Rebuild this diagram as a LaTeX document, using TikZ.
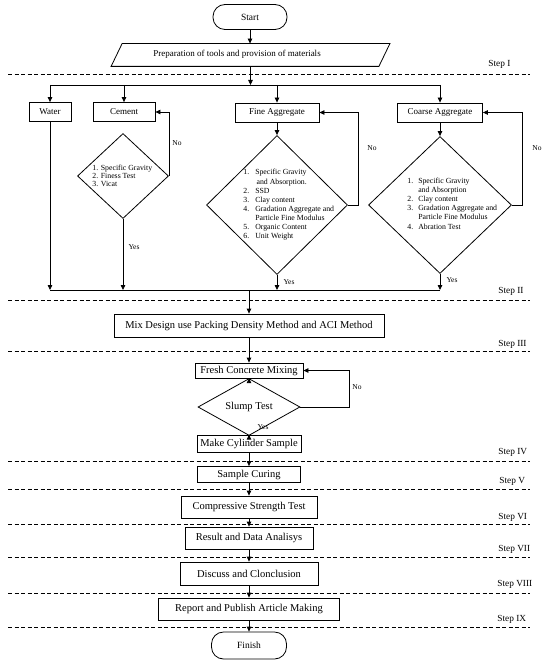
\documentclass[tikz,border=0pt]{standalone}
\usepackage{fontspec}
\setmainfont{Liberation Serif}
\usetikzlibrary{arrows.meta,shapes.geometric,calc}
\begin{document}
\begin{tikzpicture}[x=1pt,y=-1pt,
  line width=0.8pt,
  arr/.style={-{Triangle[length=5pt,width=4.5pt]}},
  box/.style={draw, rectangle, inner sep=0pt, align=center},
  topbox/.style={box, font=\fontsize{9}{10}\selectfont, minimum height=19pt},
  lowbox/.style={box, font=\fontsize{10.5}{12}\selectfont},
  term/.style={draw, rectangle, rounded corners=12pt, inner sep=0pt, font=\fontsize{9.5}{11}\selectfont},
  dec/.style={draw, diamond, inner sep=0pt},
  dtext/.style={inner sep=0pt, anchor=west, align=left, font=\fontsize{7.8}{9.1}\selectfont},
  yn/.style={inner sep=0pt, font=\fontsize{7.5}{9}\selectfont},
  steplbl/.style={inner sep=0pt, anchor=west, font=\fontsize{9.3}{11}\selectfont},
  sep/.style={dash pattern=on 4pt off 2.5pt, line width=0.7pt}
]
\useasboundingbox (0,0) rectangle (550,666);

% separators
\foreach \yy in {74,300,351,461,489,524,557,593,627}
  \draw[sep] (8,\yy) -- (530,\yy);

% step labels
\node[steplbl] (s1) at (488,64) {Step I};
\node[steplbl] (s2) at (498,291) {Step II};
\node[steplbl] (s3) at (498,344) {Step III};
\node[steplbl] (s4) at (498,452) {Step IV};
\node[steplbl] (s5) at (499,481) {Step V};
\node[steplbl] (s6) at (498,517) {Step VI};
\node[steplbl] (s7) at (498,549) {Step VII};
\node[steplbl] (s8) at (497,584) {Step VIII};
\node[steplbl] (s9) at (497,619) {Step IX};

% top
\node[term, minimum width=74pt, minimum height=25pt] (start) at (250,17) {Start};
\node[inner sep=0pt, minimum width=256pt, minimum height=22pt] (prep) at (250.5,55) {};
\draw ($(prep.south west)+(-11,0)$) -- (prep.south east) -- ($(prep.north east)+(11,0)$) -- (prep.north west) -- cycle;
\node[inner sep=0pt, font=\fontsize{9}{10}\selectfont] (prept) at (237,54) {Preparation of tools and provision of materials};

\draw[arr] (start.south) -- (start.south |- prep.north);

\coordinate (bl) at (50,85);
\coordinate (br) at (440,85);
\draw[arr] (prep.south) -- (prep.south |- bl);
\draw (bl) -- (br);

\node[topbox, minimum width=42pt] (water) at (50,112) {Water};
\node[topbox, minimum width=62pt] (cement) at (124,112) {Cement};
\node[topbox, minimum width=84pt] (fine) at (277,112.5) {Fine Aggregate};
\node[topbox, minimum width=85pt] (coarse) at (440,112.5) {Coarse Aggregate};

\draw[arr] (bl) -- (water.north);
\draw[arr] (cement.north |- bl) -- (cement.north);
\draw[arr] (fine.north |- bl) -- (fine.north);
\draw[arr] (br) -- (coarse.north);

% diamonds
\node[dec, minimum width=91pt, minimum height=85pt] (cd) at (123,176) {};
\node[dec, minimum width=141pt, minimum height=139pt] (fd) at (277,205) {};
\node[dec, minimum width=143pt, minimum height=137pt] (kd) at (440,205) {};

\node[dtext, font=\fontsize{7.8}{8.3}\selectfont] (cdt) at (92,176) {1. Specific Gravity\\2. Finess Test\\3. Vicat};
\node[dtext] (fdt) at (243,205) {\begin{tabular}{@{}l@{\hspace{6pt}}l@{}}1. & Specific Gravity\\ & \,and Absorption.\\ 2. & SSD\\ 3. & Clay content\\ 4. & Gradation Aggregate and\\ & Particle Fine Modulus\\ 5. & Organic Content\\ 6. & Unit Weight\end{tabular}};
\node[dtext] (kdt) at (407,204.5) {\begin{tabular}{@{}l@{\hspace{5pt}}l@{}}1. & Specific Gravity\\ & and Absorption\\ 2. & Clay content\\ 3. & Gradation Aggregate and\\ & Particle Fine Modulus\\ 4. & Abration Test\end{tabular}};

\draw[arr] (fine.south) -- (fd.north);
\draw[arr] (coarse.south) -- (kd.north);

% no loops
\draw[arr] (cd.east) -- (cd.east |- cement.east) -- (cement.east);
\draw[arr] (fd.east) -- ++(10,0) |- (fine.east);
\draw[arr] (kd.east) -- ++(10,0) |- (coarse.east);
\node[yn] (no1) at (177,143) {No};
\node[yn] (no2) at (372,148) {No};
\node[yn] (no3) at (537,148) {No};

% merge
\coordinate (ml) at (50,290);
\coordinate (mr) at (440,290);
\draw[arr] (water.south) -- (ml);
\draw[arr] (cd.south) -- (cd.south |- ml);
\draw[arr] (fd.south) -- (fd.south |- ml);
\draw[arr] (kd.south) -- (mr);
\draw (ml) -- (mr);
\node[yn] (y1) at (134,247) {Yes};
\node[yn] (y2) at (289,282) {Yes};
\node[yn] (y3) at (452,280) {Yes};

% lower chain
\node[lowbox, minimum width=270pt, minimum height=23pt] (mix) at (249,325.5) {Mix Design use Packing Density Method and ACI Method};
\node[lowbox, minimum width=108pt, minimum height=15pt] (fresh) at (249,370.5) {Fresh Concrete Mixing};
\node[dec, minimum width=102pt, minimum height=30pt, font=\fontsize{10.5}{12}\selectfont] (slump) at (249,407) {Slump Test};
\node[lowbox, minimum width=104pt, minimum height=17pt] (cyl) at (249,443.5) {Make Cylinder Sample};
\node[lowbox, minimum width=103pt, minimum height=16pt] (cure) at (249,474.5) {Sample Curing};
\node[lowbox, minimum width=136pt, minimum height=22pt] (comp) at (249,507) {Compressive Strength Test};
\node[lowbox, minimum width=128pt, minimum height=22pt] (res) at (249,538) {Result and Data Analisys};
\node[lowbox, minimum width=138pt, minimum height=23pt] (disc) at (249,573.5) {Discuss and Clonclusion};
\node[lowbox, minimum width=181pt, minimum height=22pt] (rep) at (249,609) {Report and Publish Article Making};
\node[term, minimum width=75pt, minimum height=27pt] (finish) at (249,645.5) {Finish};

\draw[arr] (mix.north |- ml) -- (mix.north);
\draw[arr] (mix) -- (fresh);
\draw[arr] (fresh) -- (slump);
\draw[arr] (slump.east) -- ++(49,0) |- (fresh.east);
\node[yn] (no4) at (357,387) {No};
\draw[arr] (slump) -- (cyl);
\node[yn] (y4) at (263,427) {Yes};
\draw[arr] (cyl) -- (cure);
\draw[arr] (cure) -- (comp);
\draw[arr] (comp) -- (res);
\draw[arr] (res) -- (disc);
\draw[arr] (disc) -- (rep);
\draw[arr] (rep) -- (finish);
\end{tikzpicture}
\end{document}
